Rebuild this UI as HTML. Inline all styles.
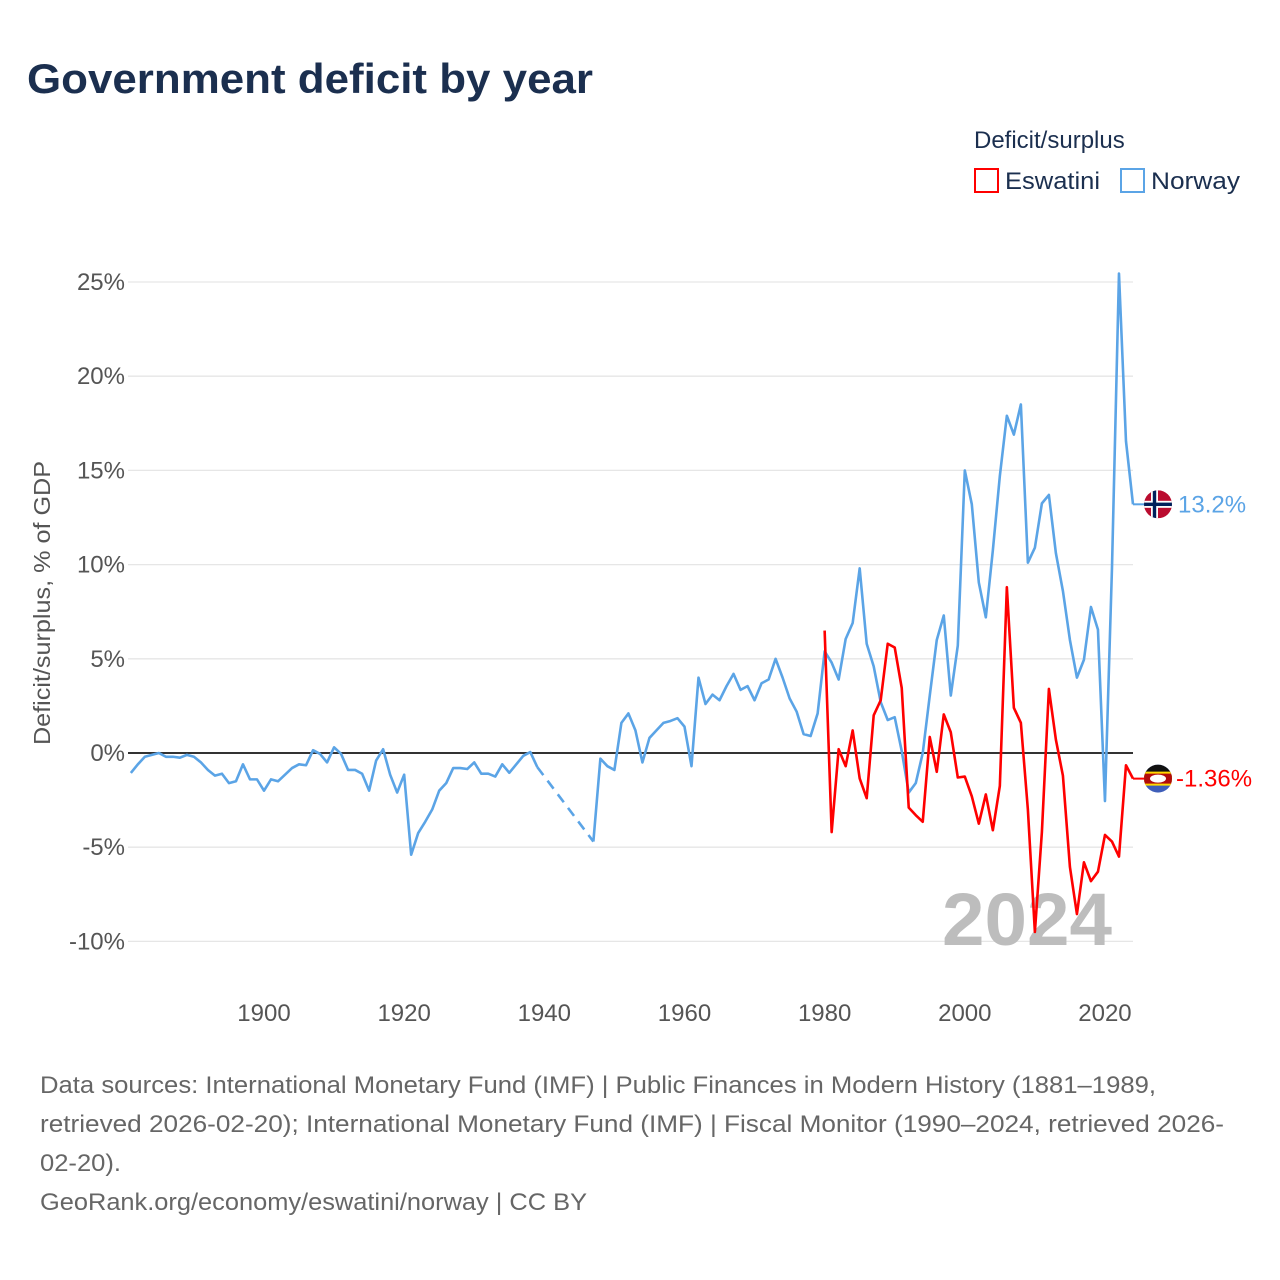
<!DOCTYPE html>
<html><head><meta charset="utf-8"><style>
body{margin:0;background:#fff;font-family:"Liberation Sans",sans-serif}
#wrap{position:relative;width:1280px;height:1280px;overflow:hidden}
</style></head><body>
<div id="wrap">
<svg id="chart" width="1280" height="1280" xmlns="http://www.w3.org/2000/svg">
<text x="27" y="93" font-size="42" font-weight="bold" fill="#1b2f4f" textLength="566" lengthAdjust="spacingAndGlyphs">Government deficit by year</text>
<text x="974" y="148" font-size="24" fill="#1b2f4f">Deficit/surplus</text>
<g><rect x="975" y="169" width="23" height="23" fill="none" stroke="#f00" stroke-width="2"/><text x="1005" y="189" font-size="24" fill="#1b2f4f" textLength="95" lengthAdjust="spacingAndGlyphs">Eswatini</text></g>
<g><rect x="1121" y="169" width="23" height="23" fill="none" stroke="#5ba4e6" stroke-width="2"/><text x="1151" y="189" font-size="24" fill="#1b2f4f" textLength="89" lengthAdjust="spacingAndGlyphs">Norway</text></g>
<text transform="translate(50,603) rotate(-90)" text-anchor="middle" font-size="23" fill="#555" textLength="284" lengthAdjust="spacingAndGlyphs">Deficit/surplus, % of GDP</text>
<g id="grid"></g><g id="yt"></g><g id="xt"></g>
<text x="1112" y="945" text-anchor="end" font-size="74" font-weight="bold" fill="#bdbdbd" textLength="170" lengthAdjust="spacingAndGlyphs">2024</text>
<g id="series"></g>
<g font-size="24" fill="#666">
<text x="40" y="1093" textLength="1116" lengthAdjust="spacingAndGlyphs">Data sources: International Monetary Fund (IMF) | Public Finances in Modern History (1881–1989,</text>
<text x="40" y="1132" textLength="1184" lengthAdjust="spacingAndGlyphs">retrieved 2026-02-20); International Monetary Fund (IMF) | Fiscal Monitor (1990–2024, retrieved 2026-</text>
<text x="40" y="1171" textLength="81" lengthAdjust="spacingAndGlyphs">02-20).</text>
<text x="40" y="1210" textLength="547" lengthAdjust="spacingAndGlyphs">GeoRank.org/economy/eswatini/norway | CC BY</text>
</g>
</svg></div>
<script>
const yTicks=[-10,-5,0,5,10,15,20,25];
const xTicks=[1900,1920,1940,1960,1980,2000,2020];
const norwayStart=1881;
const norwayValues=[-1.06,-0.6,-0.2,-0.1,0,-0.2,-0.2,-0.25,-0.1,-0.2,-0.5,-0.9,-1.2,-1.1,-1.6,-1.5,-0.6,-1.4,-1.4,
-2.0,-1.4,-1.5,-1.15,-0.8,-0.6,-0.65,0.15,-0.05,-0.5,0.3,-0.05,-0.9,-0.9,-1.1,-2.0,-0.4,0.2,-1.15,-2.1,
-1.15,-5.4,-4.25,-3.65,-3.0,-2.0,-1.6,-0.8,-0.8,-0.85,-0.5,-1.1,-1.1,-1.25,-0.6,-1.05,-0.6,-0.15,0.05,-0.75,
null,null,null,null,null,null,null,-4.7,-0.3,-0.7,-0.9,
1.6,2.1,1.2,-0.5,0.8,1.2,1.6,1.7,1.85,1.4,-0.7,4.0,2.6,3.1,2.8,3.55,4.2,3.35,3.55,2.8,
3.7,3.9,5.0,4.0,2.9,2.2,1.0,0.9,2.1,5.4,4.8,3.9,6.05,6.9,9.8,5.8,4.6,2.7,1.75,1.9,
0.1,-2.1,-1.6,0,3.05,6.0,7.3,3.05,5.7,15.0,13.2,9.05,7.2,10.75,14.7,17.9,16.9,18.5,10.1,10.9,
13.25,13.7,10.6,8.6,6.0,4.0,4.95,7.75,6.55,-2.55,9.8,25.45,16.55,13.2];
const eswStart=1980;
const eswValues=[6.5,-4.2,0.2,-0.7,1.2,-1.35,-2.4,2.0,2.8,5.8,5.6,3.45,-2.9,-3.3,-3.65,0.85,-1.0,2.05,1.1,-1.3,
-1.25,-2.3,-3.75,-2.2,-4.1,-1.75,8.8,2.4,1.6,-3.0,-9.5,-4.2,3.4,0.7,-1.2,-6.05,-8.55,-5.8,-6.8,-6.3,
-4.35,-4.7,-5.5,-0.65,-1.36];
const NS="http://www.w3.org/2000/svg";
const X=y=>264+(y-1900)*7.008, Y=v=>753-v*18.84;
function mk(t,a,p){const e=document.createElementNS(NS,t);for(const k in a)e.setAttribute(k,a[k]);p.appendChild(e);return e;}
const g=document.getElementById('grid'),yt=document.getElementById('yt'),xt=document.getElementById('xt'),s=document.getElementById('series');
yTicks.forEach(t=>{
 const l=mk('line',{x1:128,x2:1133,y1:Y(t),y2:Y(t),stroke:'#e6e6e6','stroke-width':1.3},g);
 
 
 const tx=mk('text',{x:125,y:Y(t)+8,'text-anchor':'end','font-size':24,fill:'#555'},yt);tx.textContent=t+'%';
 
 
});
xTicks.forEach(t=>{
 const tx=mk('text',{x:X(t),y:1021,'text-anchor':'middle','font-size':24,fill:'#555'},xt);tx.textContent=t;
 
 
});
const z=mk('line',{x1:128,x2:1133,y1:Y(0),y2:Y(0),stroke:'#333','stroke-width':2},g);


function draw(start,vals,col,name){
 let d='',prev=null,dash='';
 vals.forEach((v,i)=>{const yr=start+i;if(v===null)return;
  const p=[X(yr),Y(v)];
  if(prev&&prev.i===i-1)d+='L'+p[0]+','+p[1];
  else{ if(prev)dash+='M'+prev.p[0]+','+prev.p[1]+'L'+p[0]+','+p[1]; d+='M'+p[0]+','+p[1];}
  prev={i,p};});
 const pl=mk('path',{d:d,fill:'none',stroke:col,'stroke-width':2.6,'stroke-linejoin':'round'},s);
 
 
 if(dash){const dl=mk('path',{d:dash,fill:'none',stroke:col,'stroke-width':2.6,'stroke-dasharray':'10,7'},s);
 
 }
 return prev.p;
}
const pn=draw(norwayStart,norwayValues,'#5ba4e6','norway');
const pe=draw(eswStart,eswValues,'#f00','eswatini');
const ln1=mk('line',{x1:pn[0],x2:1145,y1:pn[1],y2:pn[1],stroke:'#5ba4e6','stroke-width':2},s);


const fn=mk('g',{},s);


fn.innerHTML='<clipPath id="cn"><circle cx="1158" cy="'+pn[1]+'" r="14"/></clipPath><g clip-path="url(#cn)"><rect x="1144" y="'+(pn[1]-14)+'" width="28" height="28" fill="#ba0c2f"/><rect x="1144" y="'+(pn[1]-3.5)+'" width="28" height="7" fill="#fff"/><rect x="1151" y="'+(pn[1]-14)+'" width="7" height="28" fill="#fff"/><rect x="1144" y="'+(pn[1]-1.7)+'" width="28" height="3.4" fill="#00205b"/><rect x="1152.8" y="'+(pn[1]-14)+'" width="3.4" height="28" fill="#00205b"/></g>';
const tn=mk('text',{x:1178,y:pn[1]+8,'font-size':24,fill:'#5ba4e6'},s);tn.textContent=norwayValues[norwayValues.length-1]+'%';


const ey=Y(eswValues[eswValues.length-1]);
const ln2=mk('line',{x1:pe[0],x2:1145,y1:pe[1],y2:pe[1],stroke:'#f00','stroke-width':2},s);


const fe=mk('g',{},s);


fe.innerHTML='<clipPath id="ce"><circle cx="1158" cy="'+ey+'" r="14"/></clipPath><g clip-path="url(#ce)"><rect x="1144" y="'+(ey-14)+'" width="28" height="28" fill="#3e5eb9"/><rect x="1144" y="'+(ey-14)+'" width="28" height="13" fill="#111"/><rect x="1144" y="'+(ey-7)+'" width="28" height="14" fill="#ffd900"/><rect x="1144" y="'+(ey-5)+'" width="28" height="10" fill="#b10c0c"/><ellipse cx="1158" cy="'+ey+'" rx="8" ry="4" fill="#fff"/></g>';
const te=mk('text',{x:1176,y:ey+8,'font-size':24,fill:'#f00'},s);te.textContent=eswValues[eswValues.length-1]+'%';


</script>
</body></html>
